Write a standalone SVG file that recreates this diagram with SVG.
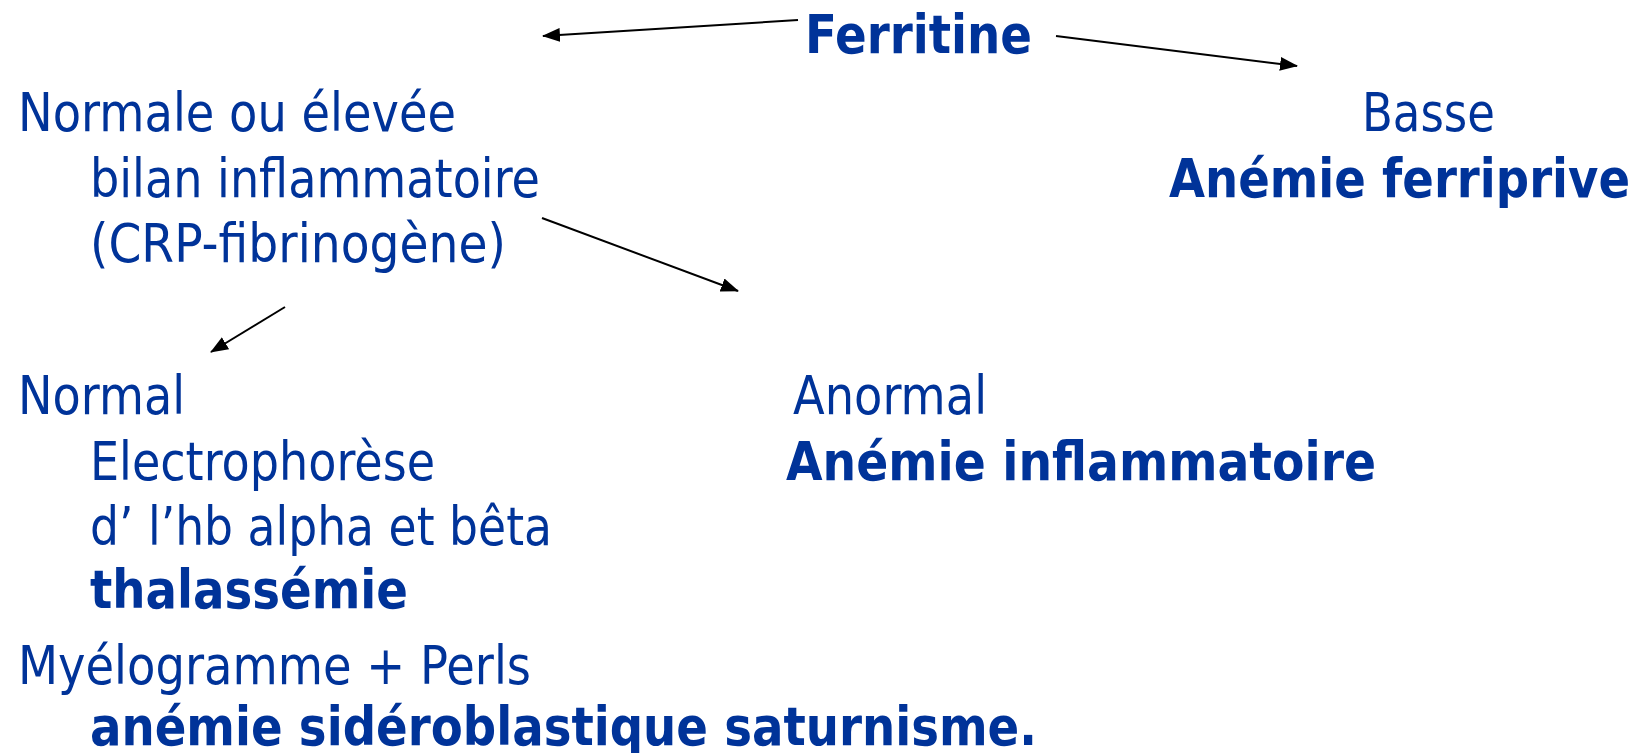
<svg xmlns="http://www.w3.org/2000/svg" width="1643" height="753" viewBox="0 0 1643 753">
<style>
text{font-family:"DejaVu Sans","Liberation Sans",sans-serif;font-size:54px;fill:#003399}
.b{font-weight:bold}
.c line{stroke:#000;stroke-width:2;marker-end:url(#ah)}
</style>
<defs>
<marker id="ah" markerUnits="userSpaceOnUse" markerWidth="18" markerHeight="14" refX="17" refY="7" orient="auto">
<path d="M0,0 L18,7 L0,14 Z" fill="#000"/>
</marker>
</defs>
<rect width="1643" height="753" fill="#fff"/>
<g class="c" id="connectors">
<line x1="798" y1="20" x2="543" y2="36"/>
<line x1="1056" y1="36" x2="1297" y2="66"/>
<line x1="542" y1="218" x2="738" y2="291"/>
<line x1="285" y1="307" x2="211" y2="352"/>
</g>
<g id="ferritine"><text class="b" x="805" y="53" textLength="227" lengthAdjust="spacingAndGlyphs">Ferritine</text></g>
<g id="normale">
<text x="18" y="131" textLength="438" lengthAdjust="spacingAndGlyphs">Normale ou élevée</text>
<text x="90" y="197" textLength="450" lengthAdjust="spacingAndGlyphs">bilan inflammatoire</text>
<text x="90" y="262" textLength="416" lengthAdjust="spacingAndGlyphs">(CRP-fibrinogène)</text>
</g>
<g id="basse">
<text x="1362" y="131" textLength="133" lengthAdjust="spacingAndGlyphs">Basse</text>
<text class="b" x="1169" y="197" textLength="461" lengthAdjust="spacingAndGlyphs">Anémie ferriprive</text>
</g>
<g id="normal">
<text x="18" y="414" textLength="167" lengthAdjust="spacingAndGlyphs">Normal</text>
<text x="90" y="480" textLength="345" lengthAdjust="spacingAndGlyphs">Electrophorèse</text>
<text x="90" y="545" textLength="462" lengthAdjust="spacingAndGlyphs">d’ l’hb alpha et bêta</text>
<text class="b" x="90" y="608" textLength="318" lengthAdjust="spacingAndGlyphs">thalassémie</text>
</g>
<g id="myelogramme">
<text x="18" y="684" textLength="513" lengthAdjust="spacingAndGlyphs">Myélogramme + Perls</text>
<text class="b" x="90" y="745" textLength="947" lengthAdjust="spacingAndGlyphs">anémie sidéroblastique saturnisme.</text>
</g>
<g id="anormal">
<text x="793" y="414" textLength="194" lengthAdjust="spacingAndGlyphs">Anormal</text>
<text class="b" x="786" y="480" textLength="590" lengthAdjust="spacingAndGlyphs">Anémie inflammatoire</text>
</g>
</svg>
